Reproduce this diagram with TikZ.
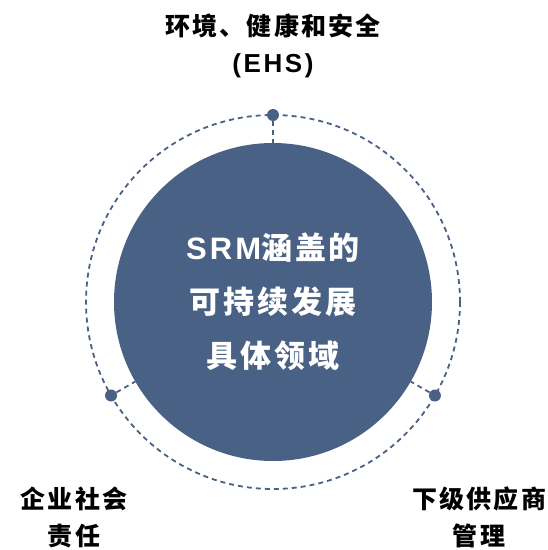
\documentclass[tikz,border=0pt]{standalone}
\usepackage{fontspec}
\usetikzlibrary{calc}
\setmainfont{Liberation Sans}
\newfontfamily\latinb{Liberation Sans}[LetterSpace=10]
\newfontfamily\cjk{Noto Sans CJK SC}[LetterSpace=9]
\definecolor{srmblue}{HTML}{4A6186}
\begin{document}
\begin{tikzpicture}[x=1pt,y=-1pt,
  lbl/.style={align=center,text=black,font=\fontsize{25}{37}\selectfont\bfseries\cjk,inner sep=0pt},
  dashline/.style={draw=srmblue,line width=1.8pt,dash pattern=on 5pt off 4pt},
  dotnode/.style={circle,fill=srmblue,minimum size=12pt,inner sep=0pt}]
\useasboundingbox (0,0) rectangle (548,550);
\coordinate (C) at (273,302);
\draw[dashline] (C) circle[radius=187];
\node[dotnode] (d1) at ($(C)+(-90:187)$) {};
\node[dotnode] (d2) at ($(C)+(150:187)$) {};
\node[dotnode] (d3) at ($(C)+(30:187)$) {};
\coordinate (e1) at ($(C)+(-90:159)$);
\coordinate (e2) at ($(C)+(150:159)$);
\coordinate (e3) at ($(C)+(30:159)$);
\draw[dashline] (d1) -- (e1);
\draw[dashline] (d2) -- (e2);
\draw[dashline] (d3) -- (e3);
\node[circle,fill=srmblue,minimum size=318pt,inner sep=0pt,align=center,text=white,
  font=\fontsize{31}{54}\selectfont\bfseries\cjk] (core) at (C)
  {{\latinb\bfseries\fontsize{31}{54}\selectfont SRM}涵盖的\\可持续发展\\具体领域};
\node[lbl] (t1) at (273,46) {环境、健康和安全\\{\latinb\bfseries\fontsize{26}{37}\selectfont(EHS)}};
\node[lbl] (t2) at (74,517) {企业社会\\责任};
\node[lbl] (t3) at (479,517) {下级供应商\\管理};
\end{tikzpicture}
\end{document}
